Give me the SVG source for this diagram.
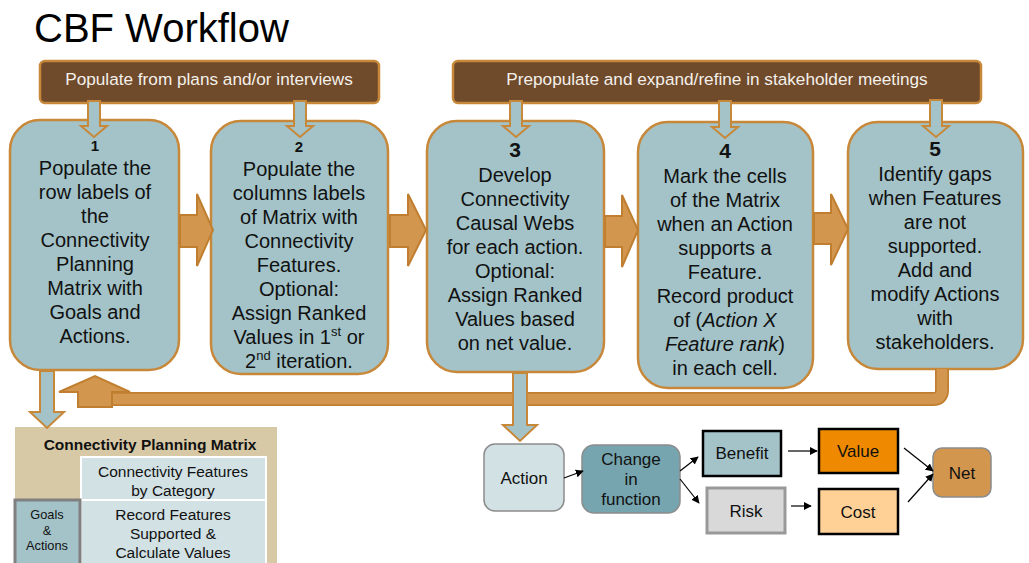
<svg xmlns="http://www.w3.org/2000/svg" width="1029" height="563" viewBox="0 0 1029 563">
  <defs>
    <style>
      text { font-family: "Liberation Sans", Arial, sans-serif; fill: #111; }
      .title { font-size: 40px; fill: #000; }
      .banner { fill: #6f4a2b; stroke: #c8883a; stroke-width: 2.5; }
      .banner-text { font-size: 17.2px; fill: #f4f0ea; text-anchor: middle; }
      .step { fill: #a3c3c8; stroke: #c8883a; stroke-width: 2.5; }
      .step-text { font-size: 20px; text-anchor: middle; }
      .num-s { font-size: 15px; font-weight: bold; text-anchor: middle; }
      .num-l { font-size: 21px; font-weight: bold; text-anchor: middle; }
      .blue-arrow { fill: #a3c3c8; stroke: #c8883a; stroke-width: 2; stroke-linejoin: miter; }
      .orange-arrow { fill: #d3964f; stroke: #c07f30; stroke-width: 2; }
      .mtx-bg { fill: #d7c8a6; }
      .mtx-cell { fill: #d1e1e4; stroke: #fff; stroke-width: 2; }
      .mtx-title { font-size: 15.5px; font-weight: bold; text-anchor: middle; }
      .mtx-text { font-size: 15.5px; text-anchor: middle; }
      .goals { fill: #a3c3c8; stroke: #808080; stroke-width: 3; }
      .goals-text { font-size: 12.8px; text-anchor: middle; }
      .flow-text { font-size: 17px; text-anchor: middle; }
      .link { stroke: #000; stroke-width: 1.2; fill: none; marker-end: url(#tip); }
    </style>
    <marker id="tip" viewBox="0 0 10 10" refX="9" refY="5" markerWidth="8" markerHeight="8" markerUnits="userSpaceOnUse" orient="auto">
      <path d="M0,0 L10,5 L0,10 z" fill="#000"/>
    </marker>
  </defs>

  <rect width="1029" height="563" fill="#fff"/>

  <text class="title" x="34" y="42">CBF Workflow</text>

  <!-- source banners -->
  <g id="banner-plans">
    <rect class="banner" x="40" y="61" width="339" height="42" rx="5"/>
    <text class="banner-text" x="209" y="85">Populate from plans and/or interviews</text>
  </g>
  <g id="banner-meetings">
    <rect class="banner" x="453" y="61" width="528" height="42" rx="5"/>
    <text class="banner-text" x="717" y="85">Prepopulate and expand/refine in stakeholder meetings</text>
  </g>

  <!-- workflow steps -->
  <g id="step1">
    <rect class="step" x="10" y="120" width="169" height="250" rx="30"/>
    <text class="num-s" x="95" y="151">1</text>
    <text class="step-text" x="95" y="175">Populate the</text>
    <text class="step-text" x="95" y="199">row labels of</text>
    <text class="step-text" x="95" y="223">the</text>
    <text class="step-text" x="95" y="247">Connectivity</text>
    <text class="step-text" x="95" y="271">Planning</text>
    <text class="step-text" x="95" y="295">Matrix with</text>
    <text class="step-text" x="95" y="319">Goals and</text>
    <text class="step-text" x="95" y="343">Actions.</text>
  </g>
  <g id="step2">
    <rect class="step" x="211" y="121" width="177" height="253" rx="30"/>
    <text class="num-s" x="299" y="152">2</text>
    <text class="step-text" x="299" y="176">Populate the</text>
    <text class="step-text" x="299" y="200">columns labels</text>
    <text class="step-text" x="299" y="224">of Matrix with</text>
    <text class="step-text" x="299" y="248">Connectivity</text>
    <text class="step-text" x="299" y="272">Features.</text>
    <text class="step-text" x="299" y="296">Optional:</text>
    <text class="step-text" x="299" y="320">Assign Ranked</text>
    <text class="step-text" x="299" y="344">Values in 1<tspan font-size="13" dy="-8">st</tspan><tspan dy="8"> or</tspan></text>
    <text class="step-text" x="299" y="368">2<tspan font-size="13" dy="-8">nd</tspan><tspan dy="8"> iteration.</tspan></text>
  </g>
  <g id="step3">
    <rect class="step" x="427" y="121" width="177" height="251" rx="30"/>
    <text class="num-l" x="515" y="157">3</text>
    <text class="step-text" x="515" y="182">Develop</text>
    <text class="step-text" x="515" y="206">Connectivity</text>
    <text class="step-text" x="515" y="230">Causal Webs</text>
    <text class="step-text" x="515" y="254">for each action.</text>
    <text class="step-text" x="515" y="278">Optional:</text>
    <text class="step-text" x="515" y="302">Assign Ranked</text>
    <text class="step-text" x="515" y="326">Values based</text>
    <text class="step-text" x="515" y="350">on net value.</text>
  </g>
  <g id="step4">
    <rect class="step" x="638" y="122" width="175" height="266" rx="30"/>
    <text class="num-l" x="725" y="158">4</text>
    <text class="step-text" x="725" y="183">Mark the cells</text>
    <text class="step-text" x="725" y="207">of the Matrix</text>
    <text class="step-text" x="725" y="231">when an Action</text>
    <text class="step-text" x="725" y="255">supports a</text>
    <text class="step-text" x="725" y="279">Feature.</text>
    <text class="step-text" x="725" y="303">Record product</text>
    <text class="step-text" x="725" y="327">of (<tspan font-style="italic">Action X</tspan></text>
    <text class="step-text" x="725" y="351"><tspan font-style="italic">Feature rank</tspan>)</text>
    <text class="step-text" x="725" y="375">in each cell.</text>
  </g>
  <g id="step5">
    <rect class="step" x="848" y="122" width="175" height="247" rx="30"/>
    <text class="num-l" x="935" y="156">5</text>
    <text class="step-text" x="935" y="181">Identify gaps</text>
    <text class="step-text" x="935" y="205">when Features</text>
    <text class="step-text" x="935" y="229">are not</text>
    <text class="step-text" x="935" y="253">supported.</text>
    <text class="step-text" x="935" y="277">Add and</text>
    <text class="step-text" x="935" y="301">modify Actions</text>
    <text class="step-text" x="935" y="325">with</text>
    <text class="step-text" x="935" y="349">stakeholders.</text>
  </g>

  <!-- matrix panel -->
  <g id="matrix">
    <rect class="mtx-bg" x="15" y="427" width="262" height="140"/>
    <text class="mtx-title" x="150" y="450">Connectivity Planning Matrix</text>
    <rect class="mtx-cell" x="81" y="457" width="185" height="43"/>
    <text class="mtx-text" x="173" y="477">Connectivity Features</text>
    <text class="mtx-text" x="173" y="496">by Category</text>
    <rect class="mtx-cell" x="81" y="500" width="185" height="70"/>
    <text class="mtx-text" x="173" y="520">Record Features</text>
    <text class="mtx-text" x="173" y="539">Supported &amp;</text>
    <text class="mtx-text" x="173" y="558">Calculate Values</text>
  </g>
  <g id="goals-actions">
    <rect class="goals" x="15" y="500" width="65" height="65"/>
    <text class="goals-text" x="47" y="519">Goals</text>
    <text class="goals-text" x="47" y="535">&amp;</text>
    <text class="goals-text" x="47" y="550">Actions</text>
  </g>

  <!-- causal web -->
  <g id="node-action">
    <rect x="484" y="444" width="80" height="67" rx="11" fill="#d1e1e4" stroke="#8c8c8c" stroke-width="1.5"/>
    <text class="flow-text" x="524" y="484">Action</text>
  </g>
  <g id="node-change">
    <rect x="582" y="445" width="98" height="68" rx="12" fill="#76a5af" stroke="#8c8c8c" stroke-width="1.5"/>
    <text class="flow-text" x="631" y="465">Change</text>
    <text class="flow-text" x="631" y="485">in</text>
    <text class="flow-text" x="631" y="505">function</text>
  </g>
  <g id="node-benefit">
    <rect x="703" y="431" width="78" height="45" fill="#a3c3c8" stroke="#000" stroke-width="2.5"/>
    <text class="flow-text" x="742" y="459">Benefit</text>
  </g>
  <g id="node-risk">
    <rect x="707" y="488" width="78" height="45" fill="#d9d9d9" stroke="#999" stroke-width="3"/>
    <text class="flow-text" x="746" y="517">Risk</text>
  </g>
  <g id="node-value">
    <rect x="819" y="429" width="79" height="44" fill="#ef8a00" stroke="#000" stroke-width="2.5"/>
    <text class="flow-text" x="858" y="457">Value</text>
  </g>
  <g id="node-cost">
    <rect x="819" y="489" width="79" height="45" fill="#ffd196" stroke="#000" stroke-width="2.5"/>
    <text class="flow-text" x="858" y="518">Cost</text>
  </g>
  <g id="node-net">
    <rect x="933" y="448" width="58" height="49" rx="9" fill="#d3964f" stroke="#8c8c8c" stroke-width="1.5"/>
    <text class="flow-text" x="962" y="479">Net</text>
  </g>

  <g id="connectors">
    <!-- banner drops -->
    <polygon class="blue-arrow" points="88,101 100,101 100,126 107,126 94,137 81,126 88,126"/>
    <polygon class="blue-arrow" points="294,101 306,101 306,126 313,126 300,137 287,126 294,126"/>
    <polygon class="blue-arrow" points="510,101 522,101 522,126 529,126 516,137 503,126 510,126"/>
    <polygon class="blue-arrow" points="719,101 731,101 731,127 738,127 725,138 712,127 719,127"/>
    <polygon class="blue-arrow" points="930,100 942,100 942,126 949,126 936,137 923,126 930,126"/>

    <!-- step to step -->
    <polygon class="orange-arrow" points="180,215 197,215 197,194 213,230 197,266 197,247 180,247"/>
    <polygon class="orange-arrow" points="390,215 408,215 408,194 426,230 408,266 408,247 390,247"/>
    <polygon class="orange-arrow" points="605,216 622,216 622,195 638,230 622,267 622,247 605,247"/>
    <polygon class="orange-arrow" points="814,213 831,213 831,194 848,229 831,265 831,244 814,244"/>

    <!-- loop back from step 5 -->
    <path d="M942 369 V390 Q942 399 933 399 H112" fill="none" stroke="#c07f30" stroke-width="14"/>
    <path d="M942 369 V390 Q942 399 933 399 H112" fill="none" stroke="#d3964f" stroke-width="10.5"/>
    <polygon class="orange-arrow" points="78,407 112,407 112,392 130,392 95,376 59,392 78,392"/>

    <!-- drops to matrix and causal web -->
    <polygon class="blue-arrow" points="40,371 54,371 54,412 64,412 47,428 30,412 40,412"/>
    <polygon class="blue-arrow" points="513,373 527,373 527,425 537,425 520,441 503,425 513,425"/>

    <!-- causal web links -->
    <line class="link" x1="564" y1="478" x2="583" y2="471"/>
    <line class="link" x1="680" y1="471" x2="698" y2="457"/>
    <line class="link" x1="680" y1="479" x2="699" y2="503"/>
    <line class="link" x1="788" y1="451" x2="817" y2="451"/>
    <line class="link" x1="791" y1="506" x2="811" y2="506"/>
    <line class="link" x1="904" y1="448" x2="933" y2="471"/>
    <line class="link" x1="908" y1="502" x2="933" y2="474"/>
  </g>
</svg>
